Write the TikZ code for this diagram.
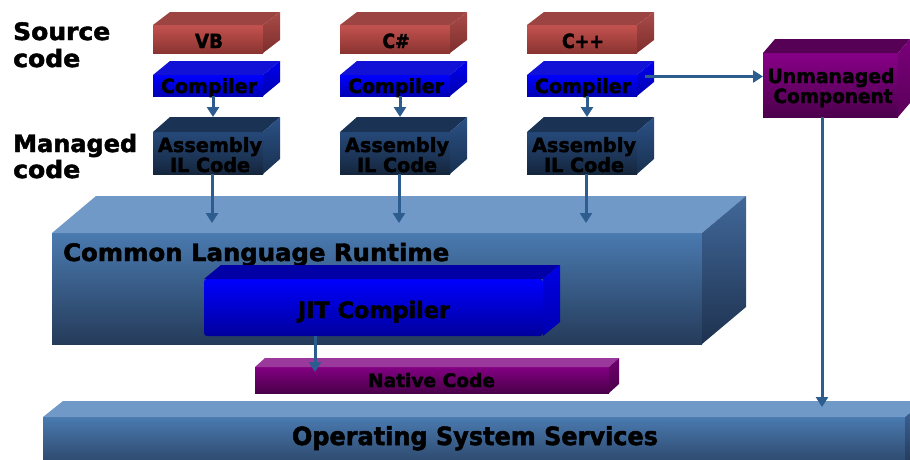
\documentclass[tikz,border=0pt]{standalone}
\usepackage{fontspec}
\setmainfont{DejaVu Sans}[BoldFeatures={FakeBold=2}]
\usetikzlibrary{arrows.meta,calc}
\newcommand\fw[2]{\resizebox{#1}{\height}{#2}}
\definecolor{arrowc}{HTML}{2D5C8E}
\definecolor{srcT}{HTML}{9B4442}\definecolor{srcF1}{HTML}{C4524F}\definecolor{srcF2}{HTML}{8A3431}\definecolor{srcS1}{HTML}{A84B48}\definecolor{srcS2}{HTML}{7E2E2C}
\definecolor{compT}{HTML}{1212D6}\definecolor{compF1}{HTML}{0000FF}\definecolor{compF2}{HTML}{0000B4}\definecolor{compS1}{HTML}{0000F0}\definecolor{compS2}{HTML}{0000B0}
\definecolor{asmT}{HTML}{1A3254}\definecolor{asmF1}{HTML}{26497A}\definecolor{asmF2}{HTML}{15263D}\definecolor{asmS1}{HTML}{2B5186}\definecolor{asmS2}{HTML}{18304F}
\definecolor{clrT}{HTML}{7099C8}\definecolor{clrF1}{HTML}{4A7AB0}\definecolor{clrF2}{HTML}{253B5A}\definecolor{clrS1}{HTML}{41689A}\definecolor{clrS2}{HTML}{1E324F}
\definecolor{jitT}{HTML}{0000A6}\definecolor{jitF1}{HTML}{0000FF}\definecolor{jitF2}{HTML}{00009C}\definecolor{jitS1}{HTML}{0000E6}\definecolor{jitS2}{HTML}{0000B0}
\definecolor{natT}{HTML}{9B389B}\definecolor{natF1}{HTML}{820082}\definecolor{natF2}{HTML}{4A0049}\definecolor{natS1}{HTML}{700070}\definecolor{natS2}{HTML}{4A004A}
\definecolor{unmT}{HTML}{560056}\definecolor{unmF1}{HTML}{880088}\definecolor{unmF2}{HTML}{4C004C}\definecolor{unmS1}{HTML}{7A007A}\definecolor{unmS2}{HTML}{5A005A}
% #1 name, #2 cx, #3 cy, #4 w, #5 h, #6 dx, #7 dy, #8 colour prefix, #9 extra options
\newcommand\cuboid[9]{%
  \node[face, top color=#8F1, bottom color=#8F2, minimum width=#4pt, minimum height=#5pt, #9] (#1) at (#2,#3) {};
  \fill[#8T] (#1.north west) -- (#1.north east) -- ([shift={(#6,#7)}]#1.north east) -- ([shift={(#6,#7)}]#1.north west) -- cycle;
  \shade[top color=#8S1, bottom color=#8S2] (#1.north east) -- (#1.south east) -- ([shift={(#6,#7)}]#1.south east) -- ([shift={(#6,#7)}]#1.north east) -- cycle;
}
\begin{document}
\begin{tikzpicture}[x=1pt,y=-1pt,
  face/.style={inner sep=0pt, outer sep=0pt, draw=none},
  lbl/.style={inner sep=0pt, anchor=base west, font=\bfseries\fontsize{24}{24}\selectfont},
  boxt/.style={inner sep=0pt, anchor=base, font=\bfseries\fontsize{19.5}{19.5}\selectfont},
  arr/.style={draw=arrowc, line width=3pt, -{Triangle[width=12pt,length=10pt]}}]
\useasboundingbox (0,0) rectangle (910,459);
\clip (0,0) rectangle (910,459);

% Operating system services
\cuboid{os}{474}{446}{862}{58}{20}{-16}{clr}{}
\node[boxt, font=\bfseries\fontsize{25}{25}\selectfont] (ost) at (475,445) {\fw{366pt}{Operating System Services}};

% Common Language Runtime
\cuboid{clr}{377}{288.5}{650}{111}{44}{-37}{clr}{}
\node[lbl] (clrt) at (63,261) {\fw{386pt}{Common Language Runtime}};

% JIT compiler
\cuboid{jit}{373.5}{307.5}{339}{57}{17}{-14}{jit}{rounded corners=3pt}
\node[boxt, font=\bfseries\fontsize{22.5}{22.5}\selectfont] (jitt) at (374,318) {\fw{152pt}{JIT Compiler}};

% Native code
\cuboid{nat}{432}{380}{354}{26}{10}{-9}{nat}{}
\node[boxt, font=\bfseries\fontsize{18.5}{18.5}\selectfont] (natt) at (431.5,387) {\fw{127pt}{Native Code}};

% Unmanaged component
\cuboid{unm}{830.5}{85}{135}{64}{12}{-14}{unm}{}
\node[boxt] (unmt1) at (831,83) {\fw{127pt}{Unmanaged}};
\node[boxt] (unmt2) at (833,103) {\fw{119pt}{Component}};

% side labels
\node[lbl] (src1) at (13,40) {\fw{97pt}{Source}};
\node[lbl] (src2) at (13,67) {\fw{67pt}{code}};
\node[lbl] (man1) at (13,152) {\fw{124pt}{Managed}};
\node[lbl] (man2) at (13,178) {\fw{67pt}{code}};

% language columns
\foreach \n/\x/\t/\tw in {vb/208/{VB}/28, cs/395/{C\#}/27, cpp/582/{C++}/42}{
  \cuboid{\n}{\x}{39}{110}{28}{17}{-13}{src}{}
  \node[boxt] (\n-t) at (\x+1,48) {\fw{\tw pt}{\t}};
  \cuboid{\n-c}{\x}{85.5}{110}{21}{17}{-14}{comp}{}
  \node[boxt] (\n-ct) at (\x+1,93) {\fw{96pt}{Compiler}};
  \cuboid{\n-a}{\x}{153}{110}{42}{17}{-15}{asm}{}
  \node[boxt] (\n-at1) at (\x+2,152) {\fw{104pt}{Assembly}};
  \node[boxt] (\n-at2) at (\x+2,172) {\fw{80pt}{IL Code}};
  \draw[arr] ($(\n-c.south)+(5,0)$) -- ($(\n-a.north)+(5,-15)$);
  \draw[arr] ($(\n-a.south)+(4,0)$) -- ($(\n-a.south |- clr.north)+(4,-10)$);
}

% connectors
\coordinate (u0) at ($(cpp-c.east)+(8,-9)$);
\draw[arr] (u0) -- (u0 -| unm.west);
\draw[arr] ($(unm.south)+(-8.5,0)$) -- ($(unm.south |- os.north)+(-8.5,-10)$);
\draw[arr] ($(jit.south)+(-58.5,0)$) -- ($(jit.south |- nat.north)+(-58.5,5)$);
\end{tikzpicture}
\end{document}
